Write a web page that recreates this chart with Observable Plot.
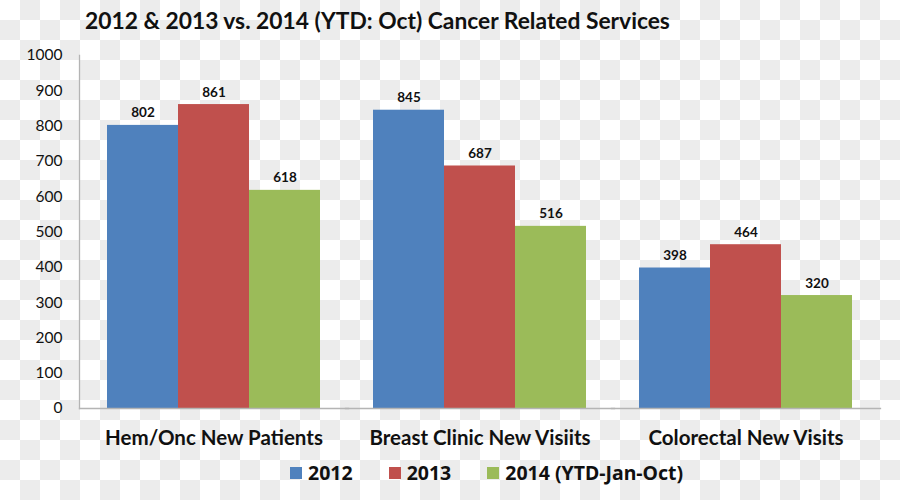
<!DOCTYPE html>
<html>
<head>
<meta charset="utf-8">
<script src="https://cdn.jsdelivr.net/npm/d3@7"></script>
<script src="https://cdn.jsdelivr.net/npm/@observablehq/plot@0.6"></script>
<style>
  html, body { margin: 0; padding: 0; background: #fff; }
  #wrap {
    position: relative; width: 900px; height: 500px; overflow: hidden;
    background-color: #fff;
    background-image: url("data:image/svg+xml,%3Csvg xmlns='http://www.w3.org/2000/svg' width='40' height='40'%3E%3Crect width='40' height='40' fill='%23ffffff'/%3E%3Crect x='20' y='0' width='20' height='20' fill='%23ececec'/%3E%3Crect x='0' y='20' width='20' height='20' fill='%23ececec'/%3E%3C/svg%3E");
    background-size: 40px 40px;
    font-family: Lato, "Open Sans", sans-serif;
  }
  #title { position: absolute; left: 85px; top: 9px; font-size: 22.8px; line-height: 22px; font-weight: bold; color: #111; white-space: nowrap; }
  #chart { position: absolute; left: 0; top: 40px; }
  #legend { position: absolute; left: 290px; top: 456px; }
  .lg-swatches .lg-swatch { margin-right: 36px !important; font-size: 19.5px; font-weight: bold; color: #111; }
  .lg-swatches .lg-swatch svg { margin-right: 6px !important; }
</style>
</head>
<body>
<div id="wrap">
  <div id="title">2012 &amp; 2013 vs. 2014 (YTD: Oct) Cancer Related Services</div>
  <div id="chart"></div>
  <div id="legend"></div>
</div>
<script>
const categories = ["Hem/Onc New Patients", "Breast Clinic New Visiits", "Colorectal New Visits"];
const years = ["2012", "2013", "2014 (YTD-Jan-Oct)"];
const values2012 = [802, 845, 398];
const values2013 = [861, 687, 464];
const values2014 = [618, 516, 320];
const colors = ["#4F81BD", "#C0504D", "#9BBB59"];
const yTicks = [0, 100, 200, 300, 400, 500, 600, 700, 800, 900, 1000];

const series = [values2012, values2013, values2014];
const data = [];
categories.forEach((c, i) => {
  years.forEach((y, j) => {
    data.push({category: c, year: y, value: series[j][i]});
  });
});

const axisColor = "#b4b4b4";

const chart = Plot.plot({
  width: 900,
  height: 415,
  marginLeft: 79,
  marginRight: 21,
  marginTop: 15,
  marginBottom: 47,
  facet: {marginLeft: 0, marginRight: 0, marginTop: 0, marginBottom: 0},
  style: {background: "transparent", fontFamily: "Lato, 'Open Sans', sans-serif", overflow: "visible"},
  fx: {domain: categories, padding: 0.2, paddingOuter: 0.1, label: null, axis: null},
  x: {domain: years, padding: 0, axis: null},
  y: {domain: [0, 1000], axis: null},
  color: {domain: years, range: colors},
  marks: [
    Plot.barY(data, {fx: "category", x: "year", y: "value", fill: "year"}),
    Plot.text(data, {fx: "category", x: "year", y: "value", text: d => String(d.value),
      lineAnchor: "bottom", dy: -8, fontSize: 13.5, fontWeight: "bold", fill: "#111"}),
    Plot.axisY({ticks: yTicks, tickFormat: d => String(d), tickSize: 0, tickPadding: 45, fontSize: 15.5, fill: "#111", label: null}),
    Plot.axisFx({anchor: "bottom", tickSize: 0, tickPadding: 22, fontSize: 20.5, fontWeight: "bold", fill: "#111", label: null}),
    Plot.frame({anchor: "bottom", insetLeft: -28, insetRight: -28, stroke: axisColor, strokeWidth: 1.3}),
    Plot.frame({anchor: "left", facetAnchor: "left", insetLeft: -28, stroke: axisColor, strokeWidth: 1.3})
  ]
});
document.getElementById("chart").appendChild(chart);

const legend = Plot.legend({
  color: {domain: years, range: colors},
  swatchSize: 12,
  className: "lg"
});
document.getElementById("legend").appendChild(legend);
</script>
</body>
</html>
